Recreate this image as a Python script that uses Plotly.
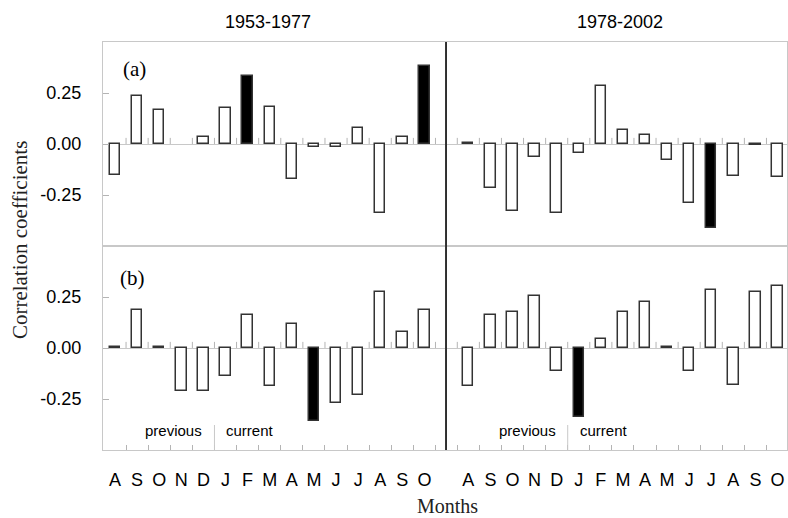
import plotly.graph_objects as go

months = ["A", "S", "O", "N", "D", "J", "F", "M", "A", "M", "J", "J", "A", "S", "O"]
period_titles = ["1953-1977", "1978-2002"]
panel_labels = ["(a)", "(b)"]

# (a) 1953-1977
a_early = [-0.15, 0.234, 0.167, None, 0.033, 0.175, 0.332, 0.181, -0.173, -0.016, -0.016, 0.078, -0.337, 0.033, 0.384]
a_early_sig = [0, 0, 0, 0, 0, 0, 1, 0, 0, 0, 0, 0, 0, 0, 1]
# (a) 1978-2002
a_late = [0.005, -0.217, -0.330, -0.065, -0.337, -0.044, 0.283, 0.069, 0.044, -0.077, -0.291, -0.413, -0.157, -0.005, -0.163]
a_late_sig = [0, 0, 0, 0, 0, 0, 0, 0, 0, 0, 0, 1, 0, 0, 0]
# (b) 1953-1977
b_early = [0.005, 0.188, 0.005, -0.211, -0.211, -0.136, 0.163, -0.188, 0.118, -0.356, -0.271, -0.232, 0.275, 0.08, 0.188]
b_early_sig = [0, 0, 0, 0, 0, 0, 0, 0, 0, 1, 0, 0, 0, 0, 0]
# (b) 1978-2002
b_late = [-0.188, 0.163, 0.178, 0.253, -0.114, -0.338, 0.044, 0.178, 0.225, 0.005, -0.114, 0.283, -0.18, 0.275, 0.304]
b_late_sig = [0, 0, 0, 0, 0, 1, 0, 0, 0, 0, 0, 0, 0, 0, 0]

y_tickvals = [-0.25, 0.0, 0.25]
y_ticktext = ["-0.25", "0.00", "0.25"]

SANS = "Liberation Sans, Arial, sans-serif"
SERIF = "Liberation Serif, Times New Roman, serif"
BORDER = "#c8c8c8"
TICKC = "#b4b4b4"

idx = list(range(len(months)))
split = 0.5015

panels = [
    (a_early, a_early_sig, "x", "y", [-0.543, 14.977], 0.5),
    (a_late, a_late_sig, "x2", "y2", [-1.01, 14.43], -0.5),
    (b_early, b_early_sig, "x3", "y3", [-0.543, 14.977], 0.5),
    (b_late, b_late_sig, "x4", "y4", [-1.01, 14.43], -0.5),
]

fig = go.Figure()
for vals, sig, xa, ya, xr, off in panels:
    fig.add_trace(go.Bar(
        x=idx, y=vals, width=0.47, xaxis=xa, yaxis=ya,
        marker=dict(color=["black" if s else "white" for s in sig],
                    line=dict(color="#333333", width=1.5)),
        showlegend=False, hoverinfo="x+y",
    ))
    tx, ty = [], []
    for i in idx:
        tx += [i + off, i + off, None]
        ty += [0, 0.03, None]
    fig.add_trace(go.Scatter(x=tx, y=ty, mode="lines", xaxis=xa, yaxis=ya,
                             line=dict(color=TICKC, width=1), showlegend=False,
                             hoverinfo="skip"))

axis_common = dict(showline=True, mirror=True, linecolor=BORDER, linewidth=1,
                   showgrid=False, zeroline=False, automargin=False)

def xaxis(domain, anchor, rng, bottom, off):
    d = dict(axis_common, domain=domain, anchor=anchor, range=rng,
             tickmode="array", tickvals=idx, ticktext=months, ticks="")
    if bottom:
        d.update(showticklabels=True, ticklabelstandoff=13,
                 tickfont=dict(family=SANS, size=18, color="black"),
                 minor=dict(tickmode="array", tickvals=[i + off for i in idx],
                            ticks="inside", ticklen=5, tickcolor=TICKC, tickwidth=1))
    else:
        d.update(showticklabels=False)
    return d

def yaxis(domain, anchor, left):
    d = dict(axis_common, domain=domain, anchor=anchor, range=[-0.5, 0.5],
             zeroline=True, zerolinecolor=BORDER, zerolinewidth=1)
    if left:
        d.update(tickmode="array", tickvals=y_tickvals, ticktext=y_ticktext,
                 ticks="inside", ticklen=6, tickcolor=TICKC, tickwidth=1,
                 ticklabelstandoff=17,
                 tickfont=dict(family=SANS, size=18, color="black"))
    else:
        d.update(showticklabels=False, ticks="")
    return d

fig.update_layout(
    width=788, height=518,
    margin=dict(l=103, r=1, t=42, b=68, autoexpand=False),
    paper_bgcolor="white", plot_bgcolor="white",
    bargap=0,
    xaxis=xaxis([0, split], "y", panels[0][4], False, 0.5),
    xaxis2=xaxis([split, 1], "y2", panels[1][4], False, -0.5),
    xaxis3=xaxis([0, split], "y3", panels[2][4], True, 0.5),
    xaxis4=xaxis([split, 1], "y4", panels[3][4], True, -0.5),
    yaxis=yaxis([0.5, 1], "x", True),
    yaxis2=yaxis([0.5, 1], "x2", False),
    yaxis3=yaxis([0, 0.5], "x3", True),
    yaxis4=yaxis([0, 0.5], "x4", False),
)

shapes = [dict(type="line", xref="paper", yref="paper", x0=split, x1=split, y0=0, y1=1,
               line=dict(color="black", width=1.5))]
for xa in ["x3", "x4"]:
    shapes.append(dict(type="line", xref=xa, yref=xa.replace("x", "y") + " domain",
                       x0=4.5, x1=4.5, y0=0, y1=0.1225,
                       line=dict(color=BORDER, width=1)))
fig.update_layout(shapes=shapes)

def centered(text, x, y, font, **kw):
    d = dict(text=text, xref="paper", yref="paper", x=x, y=y, showarrow=False,
             xanchor="center", yanchor="middle", font=font)
    d.update(kw)
    return d

ann = [
    centered(period_titles[0], 0.241, 1.049, dict(family=SANS, size=18, color="black")),
    centered(period_titles[1], 0.756, 1.049, dict(family=SANS, size=18, color="black")),
    centered(panel_labels[0], 0.046, 0.934, dict(family=SERIF, size=21, color="black")),
    centered(panel_labels[1], 0.043, 0.4216, dict(family=SERIF, size=21, color="black")),
    centered("Correlation coefficients", -0.121, 0.515, dict(family=SERIF, size=21, color="#222"),
             textangle=-90),
    centered("Months", 0.503, -0.137, dict(family=SERIF, size=20, color="#222")),
]
for xa in ["x3", "x4"]:
    ann.append(dict(text="previous", xref=xa, yref="paper", x=4.5, y=0.049,
                    xanchor="right", yanchor="middle", xshift=-10, showarrow=False,
                    font=dict(family=SANS, size=15, color="black")))
    ann.append(dict(text="current", xref=xa, yref="paper", x=4.5, y=0.049,
                    xanchor="left", yanchor="middle", xshift=10, showarrow=False,
                    font=dict(family=SANS, size=15, color="black")))
fig.update_layout(annotations=ann)

fig.write_html("out.html", config={"displayModeBar": False},
               post_script="document.body.style.margin='0';")
